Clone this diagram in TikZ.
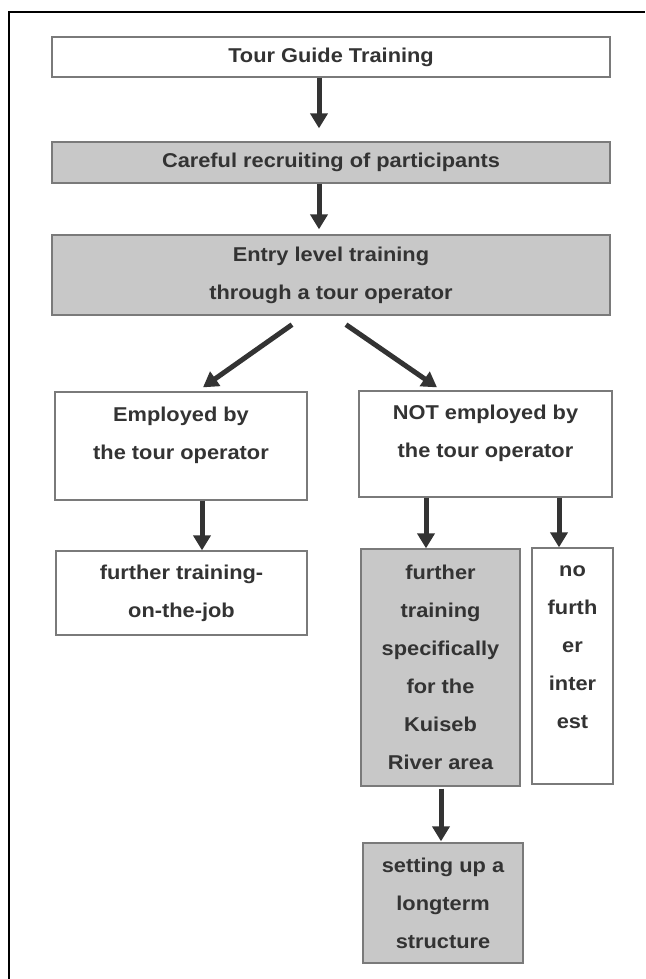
\documentclass[tikz,border=0pt]{standalone}
\usepackage{fontspec}
\setmainfont{Liberation Sans}[FakeStretch=1.09]
\usetikzlibrary{arrows.meta}
\definecolor{boxline}{HTML}{7A7A7A}
\definecolor{boxfill}{HTML}{C8C8C8}
\definecolor{ink}{HTML}{333333}
\begin{document}
\begin{tikzpicture}[x=1pt,y=-1pt,
  lbl/.style={text=ink, font=\fontsize{20}{38}\selectfont\bfseries, align=center},
  box/.style={lbl, draw=boxline, line width=1.3pt, inner sep=0pt},
  grey/.style={box, fill=boxfill},
  txt/.style={lbl, inner sep=0pt},
  arr/.style={draw=ink, line width=5pt, -{Triangle[width=17pt,length=15pt]}}]
\useasboundingbox (0,0) rectangle (645,979);
\fill[white] (0,0) rectangle (645,979);
% frame
\coordinate (fa) at (9,979);
\coordinate (fb) at (9,12);
\coordinate (fc) at (645,12);
\draw[line width=2.5pt, black] (fa) -- (fb) -- (fc);
% boxes
\node[box, minimum width=558pt, minimum height=40pt] (b1) at (331,57) {Tour Guide Training};
\node[grey, minimum width=558pt, minimum height=41pt] (b2) at (331,162.5) {Careful recruiting of participants};
\node[grey, minimum width=558pt, minimum height=80pt] (b3) at (331,275) {Entry level training\\through a tour operator};
\node[box, minimum width=252pt, minimum height=108pt] (b4) at (181,446) {};
\node[txt] (t4) at (181,435) {Employed by\\the tour operator};
\node[box, minimum width=253pt, minimum height=106pt] (b5) at (485.5,444) {};
\node[txt] (t5) at (485.5,433) {NOT employed by\\the tour operator};
\node[box, minimum width=251pt, minimum height=84pt] (b6) at (181.5,593) {further training-\\on-the-job};
\node[grey, minimum width=159pt, minimum height=237pt] (b7) at (440.5,667.5) {further\\training\\specifically\\for the\\Kuiseb\\River area};
\node[box, minimum width=81pt, minimum height=236pt] (b8) at (572.5,666) {};
\node[txt] (t8) at (572.5,647) {no\\furth\\er\\inter\\est};
\node[grey, minimum width=160pt, minimum height=120pt] (b9) at (443,903) {setting up a\\longterm\\structure};
% arrows
\draw[arr, shorten >=13pt] ([xshift=-12pt]b1.south) -- ([xshift=-12pt]b2.north);
\draw[arr, shorten >=5pt] ([xshift=-12pt]b2.south) -- ([xshift=-12pt]b3.north);
\draw[arr] ([xshift=-39pt,yshift=-9pt]b3.south) -- ([xshift=22pt,yshift=4pt]b4.north);
\draw[arr] ([xshift=15pt,yshift=-9pt]b3.south) -- ([xshift=-48.5pt,yshift=3pt]b5.north);
\draw[arr] ([xshift=21pt]b4.south) -- ([xshift=20.5pt]b6.north);
\draw[arr] ([xshift=-59.5pt]b5.south) -- ([xshift=-14.5pt]b7.north);
\draw[arr] ([xshift=73.5pt]b5.south) -- ([xshift=-13.5pt]b8.north);
\draw[arr, shorten <=2pt, shorten >=1pt] ([xshift=0.5pt]b7.south) -- ([xshift=-2pt]b9.north);
\end{tikzpicture}
\end{document}
